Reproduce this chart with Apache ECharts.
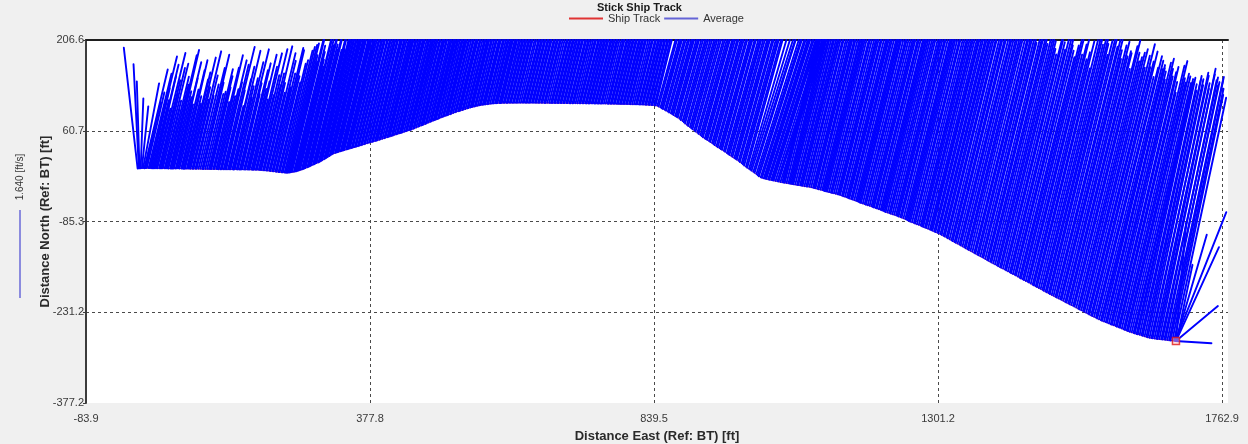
<!DOCTYPE html>
<html>
<head>
<meta charset="utf-8">
<title>Stick Ship Track</title>
<script src="https://cdn.jsdelivr.net/npm/echarts@6/dist/echarts.min.js"></script>
<style>
  html, body { margin: 0; padding: 0; background: #f0f0f0; }
  #chart { width: 1248px; height: 444px; }
</style>
</head>
<body>
<div id="chart"></div>
<script>
// Boat position for each ensemble, ft east / north of the start point (bottom track reference)
const trackEast = [
  0, 2, 3, 5, 7, 9, 11, 13, 15, 18, 20, 22, 24, 26, 28, 30, 32, 35, 37, 39, 41, 44, 46, 48, 50, 53, 55, 57, 59, 62, 64, 66, 68, 71, 73, 75, 77, 80, 82, 84, 86, 89, 91, 94, 96, 99, 102, 105, 107, 110, 113, 116,
  118, 120, 123, 125, 128, 130, 132, 135, 137, 140, 142, 144, 147, 149, 151, 154, 156, 158, 161, 163, 166, 168, 170, 173, 175, 178, 180, 182, 185, 187, 189, 192, 194, 197, 199, 201, 204, 206, 209, 211, 214, 216, 219, 221, 224, 226, 229, 231, 234, 236, 239, 241,
  243, 245, 247, 249, 251, 254, 256, 258, 260, 262, 264, 267, 269, 271, 273, 276, 278, 280, 282, 285, 287, 289, 291, 294, 296, 298, 300, 303, 305, 307,
  309, 312, 314, 316, 318, 321, 323, 325, 327, 330, 332, 334, 336, 339, 341, 343, 345, 348, 350, 353, 355, 358, 360, 363, 365, 368, 370, 373, 376, 378,
  381, 383, 386, 388, 390, 393, 395, 398, 401, 403, 406, 408, 410, 413, 415, 418, 421, 423, 426, 428, 430, 433, 436, 438, 441, 443, 445, 448, 450, 453, 456, 458,
  461, 463, 465, 468, 470, 473, 476, 478, 481, 483, 485, 488, 490, 493, 496, 498, 501, 503, 505, 508, 510, 513, 516, 518, 521, 523, 525, 528, 530, 533,
  536, 538, 541, 543, 545, 548, 550, 553, 556, 558, 561, 563, 565, 568, 570, 573, 576, 578, 581, 583, 585, 588,
  590, 592, 595, 597, 600, 602, 605, 607, 610, 612, 615, 617, 620, 623, 626, 628, 631, 633, 636, 638, 641, 643, 646, 648, 651, 653, 656, 658, 661, 663,
  666, 669, 672, 674, 677, 679, 682, 684, 687, 689, 692, 694, 697, 699, 702, 704, 707, 709, 712, 715, 718, 720, 723, 725, 728, 730, 733, 735, 738, 740,
  743, 745, 748, 750, 753, 755, 758, 761, 764, 766, 769, 771, 774, 776, 779, 781, 784, 786, 789, 791, 794, 796, 799, 801, 804, 807, 810, 812, 815, 817,
  820, 822, 825, 827, 830, 832, 835, 837, 840, 842,
  845, 847, 850, 852, 854, 857, 859, 862, 864, 867, 869, 871, 874, 876, 878, 881, 883, 886, 888, 890, 893, 895, 898, 900, 902, 905, 907, 910, 912, 915,
  917, 919, 922, 924, 926, 929, 931, 934, 936, 938, 941, 943, 946, 948, 950, 953, 955, 958, 960, 962, 965, 967, 970, 972, 974, 977, 979, 982, 984, 986,
  989, 991, 994, 996, 998, 1001, 1003, 1006, 1008, 1010, 1013, 1015, 1018, 1020, 1022, 1025, 1027, 1030, 1032, 1034, 1037, 1040, 1042, 1045,
  1048, 1050, 1052, 1055, 1058, 1060, 1062, 1064, 1066, 1069, 1072, 1074, 1077, 1079, 1081, 1084, 1087, 1089, 1092, 1095, 1098, 1100, 1102, 1105, 1107, 1110,
  1113, 1115, 1117, 1119, 1121, 1124, 1127, 1129, 1132, 1135, 1138, 1140, 1142, 1145, 1147, 1150, 1153, 1155, 1157, 1160, 1162, 1165, 1168, 1170, 1172, 1174,
  1176, 1179, 1182, 1184, 1187, 1190, 1193, 1195, 1197, 1200, 1202, 1205, 1208, 1210, 1212, 1214, 1216, 1219, 1222, 1224, 1227, 1230, 1233, 1235, 1237, 1240,
  1242, 1245, 1248, 1250, 1252, 1254, 1256, 1259, 1262, 1264, 1267, 1270, 1273, 1275, 1277, 1280, 1282, 1285, 1288, 1290, 1292, 1295, 1297, 1300, 1302, 1305,
  1307, 1310, 1312, 1315, 1317, 1320, 1323, 1325, 1328, 1330, 1333, 1336, 1338, 1341, 1344, 1346, 1349, 1351, 1354, 1357,
  1360, 1362, 1365, 1367, 1370, 1373, 1375, 1378, 1381, 1383, 1386, 1388, 1391, 1394, 1397, 1399, 1402, 1404, 1407, 1410,
  1412, 1415, 1418, 1420, 1423, 1426, 1428, 1431, 1434, 1436, 1439, 1441, 1444, 1447, 1449, 1452, 1455, 1457, 1460, 1462,
  1465, 1468, 1471, 1473, 1476, 1478, 1481, 1483, 1486, 1489, 1492, 1494, 1497, 1500, 1502, 1505, 1508, 1510, 1513, 1515,
  1518, 1521, 1523, 1526, 1529, 1531, 1534, 1537, 1539, 1542, 1545, 1547, 1550, 1552, 1555, 1558, 1560, 1563, 1566, 1568,
  1571, 1574, 1576, 1579, 1582, 1584, 1587, 1590, 1592, 1595, 1597, 1600, 1603, 1605, 1608, 1610, 1613, 1616, 1619, 1621,
  1624, 1626, 1629, 1632, 1634, 1637, 1640, 1642, 1645, 1648, 1650, 1653, 1656, 1658, 1661, 1664, 1666, 1669, 1671, 1674,
  1677, 1679, 1682,
  1685, 1687, 1688, 1688, 1689, 1688, 1687, 1688
];
const trackNorth = [
  0.0, 0.1, 0.3, 0.4, 0.5, 0.5, 0.4, 0.5, 0.6, 0.6, 0.5, 0.4, 0.3, 0.3, 0.4, 0.3, 0.2, 0.2, 0.1, 0.2, 0.3, 0.3, 0.2, 0.1, 0.0, -0.1,
  -0.2, -0.2, -0.1, 0.0, 0.1, 0.1, 0.0, -0.1, -0.3, -0.4, -0.4, -0.3, -0.2, -0.3, -0.5, -0.6, -0.6, -0.5, -0.4, -0.5, -0.7, -0.8, -0.8, -0.9, -0.9, -1.0,
  -1.0, -1.0, -1.1, -1.0, -0.9, -1.1, -1.2, -1.3, -1.4, -1.3, -1.2, -1.4, -1.5, -1.4, -1.3, -1.5, -1.6, -1.5, -1.4, -1.6, -1.7, -1.6, -1.5, -1.7, -1.8, -1.7,
  -1.6, -1.8, -1.9, -2.0, -2.1, -2.0, -2.0, -2.2, -2.4, -2.6, -2.9, -3.1, -3.3, -3.5, -3.8, -4.1, -4.4, -4.7, -5.0, -5.3, -5.7, -5.9, -6.2, -6.4, -6.6, -6.8,
  -6.9, -6.7, -6.5, -6.2, -5.8, -5.4, -5.0, -4.5, -3.9, -3.3, -2.6, -1.8, -1.0, -0.1, 0.8, 1.8, 2.7, 3.6, 4.6, 5.8, 6.9, 7.8, 8.8, 9.7, 10.6, 11.8, 13.1, 14.6, 16.0, 17.2,
  18.4, 20.0, 21.5, 22.8, 24.0, 24.8, 25.6, 26.2, 26.9, 27.6, 28.3, 28.9, 29.5, 30.3, 31.0, 31.6, 32.2, 32.9, 33.6, 34.3, 35.0, 35.8, 36.5, 37.3, 38.0, 38.8, 39.6, 40.5, 41.4, 42.0,
  42.6, 43.4, 44.1, 44.7, 45.3, 46.1, 46.9, 47.8, 48.7, 49.5, 50.3, 50.9, 51.5, 52.3, 53.1, 54.1, 55.0, 55.7, 56.5, 57.1, 57.8, 58.8, 59.7, 60.5, 61.3, 62.0, 62.7, 63.7, 64.6, 65.8, 67.0, 68.0,
  69.0, 69.8, 70.6, 71.6, 72.6, 73.8, 75.0, 76.0, 77.0, 77.8, 78.6, 79.6, 80.6, 81.8, 82.9, 83.9, 84.8, 85.5, 86.3, 87.2, 88.1, 89.2, 90.2, 91.0, 91.9, 92.5, 93.2, 94.0, 94.8, 95.7,
  96.6, 97.3, 98.0, 98.6, 99.1, 99.7, 100.3, 100.9, 101.5, 102.0, 102.4, 102.7, 103.0, 103.4, 103.7, 104.0, 104.3, 104.6, 104.8, 105.0, 105.1, 105.2,
  105.3, 105.4, 105.5, 105.5, 105.4, 105.5, 105.6, 105.6, 105.5, 105.6, 105.7, 105.7, 105.6, 105.7, 105.8, 105.8, 105.7, 105.6, 105.6, 105.7,
  105.8, 105.8, 105.7, 105.6, 105.5, 105.5, 105.6, 105.5, 105.4, 105.4, 105.5, 105.4, 105.3, 105.3, 105.4, 105.3, 105.2, 105.2, 105.3, 105.2,
  105.1, 105.1, 105.2, 105.1, 105.0, 104.9, 104.9, 105.0, 105.0, 104.9, 104.8, 104.8, 104.9, 104.8, 104.7, 104.6, 104.6, 104.6, 104.7, 104.6,
  104.5, 104.4, 104.4, 104.3, 104.3, 104.3, 104.4, 104.3, 104.2, 104.1, 104.0, 104.0, 104.1, 104.0, 103.9, 103.8, 103.8, 103.7, 103.6, 103.6,
  103.7, 103.6, 103.5, 103.4, 103.3, 103.2, 103.2, 103.1, 103.0, 102.9, 102.8, 102.7, 102.6, 102.4, 102.3, 102.2, 102.1, 101.9, 101.7, 101.4,
  101.1, 99.7, 98.2, 96.9, 95.6, 94.3, 93.0, 91.5, 90.0, 88.7, 87.4, 85.8, 84.3, 83.2, 82.1, 80.1, 78.0, 76.2, 74.3, 72.2, 70.2, 68.3, 66.5, 64.8, 63.1, 61.3, 59.5, 57.5, 55.5, 53.7,
  51.9, 50.1, 48.3, 47.1, 45.9, 44.1, 42.4, 40.8, 39.3, 37.5, 35.8, 34.2, 32.7, 31.3, 29.9, 28.3, 26.7, 24.9, 23.2, 21.8, 20.5, 18.6, 16.8, 15.4, 14.1, 12.2, 10.3, 8.5, 6.8, 4.8,
  2.9, 1.2, -0.5, -2.0, -3.6, -5.3, -7.0, -9.0, -10.9, -12.5, -14.2, -15.1, -15.9, -16.4, -16.8, -17.5, -18.2, -18.6, -19.0, -19.5, -20.1, -20.6, -21.1, -21.8,
  -22.4, -22.7, -23.0, -23.5, -24.0, -24.3, -24.7, -25.1, -25.5, -26.0, -26.5, -26.8, -27.1, -27.6, -28.0, -28.5, -28.9, -29.2, -29.5, -30.2,
  -30.9, -31.5, -32.0, -32.8, -33.5, -34.1, -34.7, -35.5, -36.2, -36.7, -37.3, -38.1, -38.8, -39.4, -40.0, -40.8, -41.5, -42.0, -42.6, -43.7,
  -44.7, -45.5, -46.3, -47.4, -48.4, -49.2, -50.0, -51.0, -52.0, -52.8, -53.7, -54.7, -55.7, -56.5, -57.3, -58.3, -59.3, -60.1, -60.9, -61.9,
  -62.9, -63.7, -64.5, -65.5, -66.5, -67.3, -68.1, -69.1, -70.1, -70.9, -71.7, -72.7, -73.7, -74.5, -75.3, -76.3, -77.3, -78.2, -79.1, -80.3,
  -81.4, -82.3, -83.3, -84.5, -85.6, -86.5, -87.5, -88.7, -89.8, -90.7, -91.7, -92.9, -94.0, -94.9, -95.9, -97.1, -98.2, -99.1, -100.1, -101.3,
  -102.4, -103.3, -104.3, -105.6,
  -106.9, -108.2, -109.4, -110.9, -112.4, -113.9, -115.4, -116.9, -118.4, -119.6, -120.9, -122.4, -123.8, -125.4, -126.9, -128.3, -129.8, -131.0, -132.3, -134.1,
  -135.8, -137.0, -138.3, -139.8, -141.3, -142.6, -143.8, -145.6, -147.3, -148.5, -149.8, -151.2, -152.7, -154.3, -155.8, -157.2, -158.7, -159.9, -161.1, -162.6,
  -164.0, -165.5, -167.0, -168.4, -169.8, -171.0, -172.3, -174.0, -175.7, -176.9, -178.2, -179.6, -181.0, -182.2, -183.5, -185.2, -186.9, -188.1, -189.4, -190.8,
  -192.2, -193.7, -195.2, -196.6, -198.1, -199.3, -200.6, -202.0, -203.4, -204.8, -206.3, -207.6, -209.0, -210.2, -211.4, -213.0, -214.7, -215.8, -217.0, -218.4,
  -219.8, -221.0, -222.2, -223.8, -225.5, -226.7, -227.9, -229.2, -230.6, -232.0, -233.5, -234.9, -236.3, -237.5, -238.7, -240.0, -241.4, -242.7, -244.0, -245.1,
  -246.2, -247.1, -248.0, -249.2, -250.5, -251.4, -252.3, -253.4, -254.5, -255.3, -256.2, -257.5, -258.8, -259.7, -260.6, -261.7, -262.8, -263.6, -264.5, -265.3,
  -266.2, -266.8, -267.5, -268.3, -269.2, -270.0, -270.8, -271.7, -272.5, -272.8, -273.1, -273.5, -274.0, -274.2, -274.4, -274.8, -275.1, -275.3, -275.5, -276.0,
  -276.4, -276.6, -276.8,
  -277.2, -277.4, -277.5, -277.6, -277.5, -277.4, -277.6, -277.5
];
// Depth-averaged water velocity for each ensemble, ft/s (east, north)
const velEast = [
  -0.26, -0.10, -0.05, 0.05, 0.12, 0.30, 0.44, 0.28, 0.33, 0.43, 0.51, 0.35, 0.31, 0.47, 0.40, 0.27, 0.53, 0.40, 0.32, 0.44, 0.48, 0.31, 0.25, 0.41, 0.38, 0.50,
  0.52, 0.35, 0.33, 0.48, 0.39, 0.28, 0.36, 0.44, 0.47, 0.33, 0.30, 0.40, 0.42, 0.50, 0.37, 0.31, 0.52, 0.42, 0.32, 0.38, 0.46, 0.51, 0.38, 0.34, 0.35, 0.45,
  0.42, 0.36, 0.30, 0.46, 0.50, 0.33, 0.37, 0.49, 0.38, 0.47, 0.56, 0.35, 0.29, 0.41, 0.45, 0.53, 0.38, 0.32, 0.40, 0.48, 0.55, 0.39, 0.33, 0.45, 0.48, 0.36,
  0.40, 0.51, 0.31, 0.46, 0.53, 0.34, 0.42, 0.54, 0.39, 0.43, 0.55, 0.39, 0.35, 0.53, 0.50, 0.38, 0.43, 0.56, 0.54, 0.43, 0.41, 0.49, 0.50, 0.56, 0.57, 0.59,
  0.60, 0.55, 0.52, 0.64, 0.67, 0.59, 0.56, 0.52, 0.49, 0.67, 0.63, 0.60, 0.58, 0.65, 0.70, 0.57, 0.55, 0.69, 0.61, 0.54, 0.67, 0.63, 0.53, 0.59, 0.64, 0.71, 0.59, 0.56, 0.69, 0.62,
  0.57, 0.68, 0.62, 0.58, 0.66, 0.64, 0.55, 0.73, 0.71, 0.55, 0.60, 0.66, 0.63, 0.60, 0.54, 0.70, 0.69, 0.58, 0.61, 0.65, 0.57, 0.68, 0.65, 0.57, 0.59, 0.67, 0.70, 0.62, 0.56, 0.59,
  0.59, 0.63, 0.68, 0.57, 0.52, 0.70, 0.62, 0.65, 0.72, 0.59, 0.55, 0.68, 0.64, 0.61, 0.58, 0.65, 0.69, 0.55, 0.61, 0.66, 0.51, 0.72, 0.66, 0.60, 0.57, 0.63, 0.71, 0.57, 0.55, 0.67,
  0.63, 0.55, 0.60, 0.71, 0.73, 0.62, 0.53, 0.66, 0.61, 0.58, 0.67, 0.70, 0.57, 0.63, 0.65, 0.60, 0.58, 0.67, 0.71, 0.56, 0.55, 0.65, 0.62, 0.59, 0.67, 0.72, 0.57, 0.62, 0.69, 0.54,
  0.60, 0.68, 0.53, 0.60, 0.64, 0.65, 0.59, 0.57, 0.72, 0.69, 0.56, 0.62, 0.66, 0.56, 0.58, 0.67, 0.65, 0.61, 0.54, 0.71, 0.68, 0.64, 0.61, 0.58,
  0.58, 0.62, 0.66, 0.56, 0.52, 0.68, 0.62, 0.60, 0.70, 0.65, 0.56, 0.53, 0.65, 0.61, 0.50, 0.59, 0.68, 0.64, 0.60, 0.72,
  0.55, 0.57, 0.67, 0.65, 0.59, 0.61, 0.71, 0.52, 0.54, 0.68, 0.63, 0.59, 0.61, 0.67, 0.51, 0.55, 0.69, 0.63, 0.57, 0.62,
  0.66, 0.71, 0.53, 0.58, 0.62, 0.65, 0.69, 0.54, 0.57, 0.68, 0.65, 0.60, 0.52, 0.72, 0.61, 0.57, 0.70, 0.64, 0.58, 0.66,
  0.68, 0.53, 0.55, 0.70, 0.63, 0.58, 0.50, 0.67, 0.69, 0.62, 0.60, 0.56, 0.66, 0.65, 0.54, 0.73, 0.62, 0.59, 0.72, 0.66,
  0.57, 0.60, 0.64, 0.71, 0.53, 0.58, 0.68, 0.63, 0.61, 0.67, 0.56, 0.55, 0.69, 0.62, 0.63, 0.69, 0.59, 0.65, 0.70, 0.61,
  0.73, 0.78, 0.83, 0.76, 0.69, 0.82, 0.87, 0.80, 0.78, 0.85, 0.90, 0.81, 0.75, 0.88, 0.85, 0.78, 0.81, 0.89, 0.92, 0.86,
  0.76, 0.83, 0.88, 0.90, 0.82, 0.84, 0.95, 0.92, 0.80, 0.87, 0.91, 0.94, 0.86, 0.89, 0.97, 0.88, 0.83, 0.95, 0.93, 0.91,
  0.87, 0.92, 0.99, 0.94, 0.86, 0.97, 0.95, 0.92, 0.90, 0.98, 1.00, 0.95, 0.89, 0.93, 0.97, 1.00, 0.92, 0.96, 1.02, 0.97,
  0.91, 1.01, 1.04, 1.04, 1.09, 1.13, 1.05, 1.10, 1.12, 1.16, 1.06, 1.12, 1.10, 1.14, 1.15, 1.18, 1.13, 1.16, 1.17, 1.18,
  1.19, 1.17, 1.15, 1.20,
  0.87, 0.93, 0.96, 0.89, 0.84, 0.97, 0.99, 0.92, 0.91, 0.95, 0.86, 0.98, 1.01, 0.90, 0.94, 0.96, 0.89, 0.93, 0.98, 0.91,
  0.85, 1.00, 0.95, 0.97, 1.03, 0.93, 0.90, 1.00, 0.99, 0.94, 0.88, 0.92, 0.97, 1.01, 0.92, 0.96, 1.02, 0.90, 0.87, 0.99,
  0.95, 1.02, 1.05, 0.97, 0.93, 0.95, 1.00, 1.03, 0.90, 0.98, 1.01, 0.95, 0.94, 1.04, 1.04, 0.99, 0.91, 0.96, 0.98, 1.02,
  1.06, 1.00, 0.94, 1.05, 1.03, 0.98, 0.97, 1.03, 0.91, 0.97, 1.05, 1.02, 1.00, 1.06, 0.95, 0.99, 1.08, 1.05, 0.99, 1.01,
  1.04, 1.06, 0.93, 1.00, 1.07, 1.04, 1.02, 1.07, 0.98, 1.02, 1.09, 1.05, 1.01, 1.08, 1.05, 1.01, 0.96, 1.07, 1.08, 1.04,
  1.03, 1.09, 1.00, 1.06,
  0.98, 1.01, 1.05, 1.00, 0.95, 1.06, 1.09, 1.04, 1.01, 1.03, 1.07, 1.01, 0.97, 1.06, 1.10, 1.07, 1.03, 1.02, 0.99, 1.05,
  1.08, 1.06, 1.04, 1.09, 1.12, 1.05, 1.00, 1.03, 1.06, 1.08, 1.10, 1.07, 1.02, 1.10, 1.13, 1.09, 1.05, 1.02, 1.00, 1.08,
  1.09, 1.07, 1.04, 1.11, 1.15, 1.10, 1.07, 1.05, 1.03, 1.09, 1.12, 1.13, 1.06, 1.11, 1.16, 1.05, 1.08, 1.14, 1.02, 1.15,
  1.19, 1.17, 1.14, 1.20, 1.23, 1.16, 1.11, 1.18, 1.21, 1.20, 1.17, 1.22, 1.25, 1.16, 1.12, 1.19, 1.21, 1.15, 1.18, 1.17,
  1.10, 1.21, 1.24, 1.19, 1.15, 1.18, 1.20, 1.22, 1.14, 1.20, 1.26, 1.15, 1.18, 1.23, 1.12, 1.17, 1.22, 1.21, 1.17, 1.18,
  1.15, 1.13, 1.09, 1.17, 1.19, 1.15, 1.11, 1.14, 1.16, 1.10, 1.05, 1.18, 1.20, 1.13, 1.11, 1.15, 1.14, 1.12, 1.10, 1.10,
  1.06, 1.05, 1.05, 1.04, 1.01, 1.06, 1.04, 1.05, 1.01, 1.08, 1.05, 1.04, 0.99, 1.08, 1.06, 1.07, 1.02, 1.04, 0.99, 1.05,
  1.03, 1.00, 0.96,
  0.98, 0.96, 0.58, 0.81, 0.30, 0.79, 0.68, 0.19
];
const velNorth = [
  2.25, 1.94, 1.62, 1.30, 1.15, 1.58, 1.84, 1.22, 1.41, 1.76, 2.08, 1.49, 1.27, 1.93, 1.72, 1.11, 2.15, 1.64, 1.38, 1.87, 1.95, 1.26, 1.09, 1.71, 1.56, 2.11,
  2.21, 1.44, 1.33, 1.98, 1.68, 1.19, 1.47, 1.83, 2.02, 1.35, 1.21, 1.66, 1.79, 2.07, 1.52, 1.29, 2.19, 1.74, 1.36, 1.57, 1.88, 2.13, 1.61, 1.40, 1.44, 1.86,
  1.73, 1.52, 1.25, 1.89, 2.12, 1.36, 1.49, 2.03, 1.62, 1.95, 2.28, 1.47, 1.18, 1.68, 1.91, 2.21, 1.55, 1.34, 1.70, 2.00, 2.24, 1.61, 1.40, 1.85, 1.98, 1.50,
  1.64, 2.14, 1.31, 1.92, 2.17, 1.39, 1.76, 2.25, 1.58, 1.80, 2.31, 1.63, 1.45, 2.19, 2.05, 1.56, 1.82, 2.30, 2.26, 1.78, 1.67, 2.02, 2.09, 2.27, 2.34, 2.38,
  2.41, 2.19, 2.06, 2.57, 2.72, 2.35, 2.23, 2.08, 1.94, 2.68, 2.55, 2.42, 2.31, 2.60, 2.83, 2.29, 2.18, 2.77, 2.47, 2.14, 2.66, 2.51, 2.12, 2.38, 2.58, 2.85, 2.34, 2.24, 2.79, 2.46,
  2.27, 2.71, 2.49, 2.33, 2.63, 2.56, 2.21, 2.92, 2.87, 2.20, 2.39, 2.64, 2.52, 2.40, 2.16, 2.81, 2.74, 2.30, 2.44, 2.59, 2.28, 2.73, 2.61, 2.26, 2.37, 2.67, 2.80, 2.48, 2.25, 2.36,
  2.36, 2.54, 2.71, 2.27, 2.09, 2.80, 2.48, 2.62, 2.88, 2.35, 2.22, 2.73, 2.57, 2.44, 2.31, 2.58, 2.76, 2.19, 2.43, 2.66, 2.05, 2.87, 2.64, 2.40, 2.29, 2.51, 2.83, 2.30, 2.18, 2.70,
  2.52, 2.21, 2.39, 2.83, 2.91, 2.47, 2.14, 2.63, 2.46, 2.32, 2.69, 2.79, 2.26, 2.52, 2.60, 2.41, 2.33, 2.68, 2.85, 2.25, 2.20, 2.59, 2.50, 2.36, 2.67, 2.90, 2.28, 2.46, 2.78, 2.15,
  2.41, 2.72, 2.11, 2.38, 2.55, 2.61, 2.37, 2.28, 2.89, 2.76, 2.24, 2.49, 2.62, 2.23, 2.34, 2.67, 2.58, 2.43, 2.17, 2.84, 2.74, 2.56, 2.45, 2.33,
  2.31, 2.50, 2.66, 2.22, 2.08, 2.71, 2.49, 2.39, 2.80, 2.60, 2.25, 2.13, 2.58, 2.45, 1.98, 2.35, 2.73, 2.56, 2.40, 2.89,
  2.19, 2.28, 2.69, 2.62, 2.35, 2.44, 2.84, 2.07, 2.14, 2.74, 2.54, 2.37, 2.43, 2.68, 2.03, 2.20, 2.77, 2.53, 2.30, 2.46,
  2.63, 2.83, 2.12, 2.34, 2.47, 2.59, 2.75, 2.15, 2.27, 2.72, 2.61, 2.41, 2.06, 2.87, 2.45, 2.26, 2.81, 2.55, 2.33, 2.64,
  2.70, 2.11, 2.21, 2.79, 2.52, 2.32, 2.01, 2.67, 2.78, 2.49, 2.38, 2.23, 2.65, 2.58, 2.16, 2.92, 2.48, 2.36, 2.86, 2.63,
  2.29, 2.40, 2.57, 2.85, 2.10, 2.30, 2.71, 2.54, 2.42, 2.69, 2.24, 2.18, 2.76, 2.47, 2.51, 2.77, 2.36, 2.61, 2.82, 2.43,
  2.62, 2.80, 2.95, 2.70, 2.48, 2.93, 3.10, 2.85, 2.77, 3.02, 3.21, 2.91, 2.69, 3.13, 3.04, 2.79, 2.88, 3.18, 3.30, 3.07,
  2.73, 2.96, 3.15, 3.22, 2.92, 3.01, 3.38, 3.27, 2.84, 3.11, 3.24, 3.36, 3.06, 3.19, 3.45, 3.14, 2.98, 3.40, 3.33, 3.26,
  3.12, 3.30, 3.52, 3.35, 3.08, 3.46, 3.41, 3.28, 3.20, 3.50, 3.58, 3.39, 3.17, 3.32, 3.47, 3.56, 3.29, 3.43, 3.63, 3.48,
  3.25, 3.61, 3.55, 3.37, 3.40, 3.53, 3.36, 3.45, 3.49, 3.64, 3.31, 3.50, 3.44, 3.57, 3.60, 3.68, 3.52, 3.62, 3.66, 3.70,
  3.71, 3.65, 3.58, 3.74,
  3.48, 3.70, 3.83, 3.55, 3.36, 3.89, 3.97, 3.66, 3.62, 3.79, 3.44, 3.92, 4.05, 3.58, 3.74, 3.85, 3.55, 3.73, 3.90, 3.64,
  3.40, 3.99, 3.79, 3.87, 4.12, 3.71, 3.59, 4.01, 3.95, 3.76, 3.51, 3.69, 3.86, 4.04, 3.68, 3.82, 4.08, 3.61, 3.47, 3.94,
  3.81, 4.07, 4.18, 3.86, 3.71, 3.80, 3.99, 4.11, 3.58, 3.90, 4.03, 3.78, 3.77, 4.16, 4.15, 3.96, 3.65, 3.84, 3.93, 4.09,
  4.24, 3.98, 3.75, 4.20, 4.10, 3.93, 3.88, 4.13, 3.63, 3.89, 4.21, 4.06, 4.01, 4.22, 3.80, 3.97, 4.30, 4.18, 3.96, 4.03,
  4.14, 4.25, 3.73, 4.00, 4.27, 4.15, 4.06, 4.29, 3.91, 4.08, 4.36, 4.21, 4.02, 4.31, 4.19, 4.05, 3.84, 4.26, 4.33, 4.17,
  4.11, 4.34, 3.98, 4.23,
  3.92, 4.05, 4.18, 3.98, 3.81, 4.22, 4.35, 4.17, 4.04, 4.13, 4.26, 4.02, 3.88, 4.25, 4.41, 4.28, 4.12, 4.06, 3.97, 4.19,
  4.30, 4.24, 4.16, 4.36, 4.47, 4.20, 4.01, 4.10, 4.24, 4.33, 4.39, 4.26, 4.09, 4.40, 4.53, 4.35, 4.21, 4.08, 3.99, 4.31,
  4.37, 4.27, 4.15, 4.44, 4.58, 4.38, 4.29, 4.21, 4.11, 4.34, 4.49, 4.51, 4.22, 4.42, 4.63, 4.18, 4.33, 4.55, 4.06, 4.60,
  4.74, 4.69, 4.57, 4.78, 4.91, 4.63, 4.44, 4.72, 4.82, 4.81, 4.66, 4.87, 4.98, 4.64, 4.49, 4.76, 4.85, 4.59, 4.70, 4.68,
  4.40, 4.84, 4.96, 4.75, 4.61, 4.70, 4.80, 4.88, 4.55, 4.79, 5.02, 4.61, 4.73, 4.93, 4.47, 4.66, 4.89, 4.82, 4.68, 4.71,
  4.78, 4.67, 4.53, 4.86, 4.95, 4.77, 4.64, 4.73, 4.84, 4.57, 4.38, 4.90, 5.00, 4.69, 4.62, 4.80, 4.76, 4.65, 4.58, 4.74,
  4.62, 4.70, 4.79, 4.68, 4.57, 4.78, 4.86, 4.81, 4.71, 4.89, 4.95, 4.76, 4.66, 4.93, 5.04, 4.88, 4.83, 4.80, 4.74, 4.85,
  4.91, 4.69, 4.58,
  4.53, 2.40, 1.98, 1.75, 1.42, 0.65, -0.04, 2.20
];

// Axis tick labels as printed
const xTickLabels = ['-83.9', '377.8', '839.5', '1301.2', '1762.9'];
const yTickLabels = ['-377.2', '-231.2', '-85.3', '60.7', '206.6'];

const scaleRef = 1.640;     // ft/s represented by the scale bar
const STICK_SCALE = 86.3;   // ft of plot distance per 1 ft/s of velocity

const X_MIN = -83.9, X_MAX = 1772.6, X_STEP = 461.7;
const Y_MIN = -377.2, Y_MAX = 206.6, Y_STEP = 145.95;

const FONT = '"Liberation Sans", Arial, sans-serif';

const nEns = Math.min(trackEast.length, trackNorth.length, velEast.length, velNorth.length);
const ensembles = [];
const trackPts = [];
for (let i = 0; i < nEns; i++) {
  ensembles.push([trackEast[i], trackNorth[i], velEast[i], velNorth[i]]);
  trackPts.push([trackEast[i], trackNorth[i]]);
}
const lastPt = trackPts[trackPts.length - 1];

// Liang–Barsky clip of a segment against the plot rectangle
function clipSegment(x0, y0, x1, y1, r) {
  let t0 = 0, t1 = 1;
  const dx = x1 - x0, dy = y1 - y0;
  const p = [-dx, dx, -dy, dy];
  const q = [x0 - r.x, r.x + r.width - x0, y0 - r.y, r.y + r.height - y0];
  for (let k = 0; k < 4; k++) {
    if (p[k] === 0) {
      if (q[k] < 0) return null;
    } else {
      const t = q[k] / p[k];
      if (p[k] < 0) { if (t > t1) return null; if (t > t0) t0 = t; }
      else { if (t < t0) return null; if (t < t1) t1 = t; }
    }
  }
  return [x0 + t0 * dx, y0 + t0 * dy, x0 + t1 * dx, y0 + t1 * dy];
}

const chart = echarts.init(document.getElementById('chart'), null, { renderer: 'canvas' });

const gridLine = { show: true, lineStyle: { color: '#4a4a4a', width: 1, type: [3, 3] } };

chart.setOption({
  animation: false,
  backgroundColor: '#f0f0f0',
  textStyle: { fontFamily: FONT },
  title: {
    text: 'Stick Ship Track',
    left: 597,
    top: 2,
    padding: 0,
    textStyle: { fontSize: 11, fontWeight: 'bold', color: '#1a1a1a', fontFamily: FONT }
  },
  legend: {
    top: 13,
    left: 569,
    itemWidth: 34,
    itemHeight: 2,
    itemGap: 4,
    padding: 0,
    textStyle: { fontSize: 11, color: '#333', fontFamily: FONT },
    data: [
      { name: 'Ship Track', icon: 'rect', itemStyle: { color: '#e03434' } },
      { name: 'Average', icon: 'rect', itemStyle: { color: '#6464d6' } }
    ]
  },
  grid: {
    left: 86, right: 20, top: 40, bottom: 41,
    containLabel: false,
    outerBoundsMode: 'none',
    show: true, backgroundColor: '#ffffff', borderWidth: 0
  },
  xAxis: [
    {
      type: 'value', position: 'bottom',
      min: X_MIN, max: X_MAX, interval: X_STEP,
      name: 'Distance East (Ref: BT) [ft]',
      nameLocation: 'middle', nameGap: 27, nameMoveOverlap: false,
      nameTextStyle: { fontSize: 13, fontWeight: 'bold', color: '#2a2a2a', fontFamily: FONT },
      axisLine: { show: false, onZero: false },
      axisTick: { show: false },
      axisLabel: {
        margin: 10, fontSize: 11, color: '#3a3a3a', fontFamily: FONT,
        showMaxLabel: false,
        formatter: (val, idx) => xTickLabels[idx] || ''
      },
      splitLine: Object.assign({ showMinLine: false, showMaxLine: false }, gridLine)
    },
    {
      // top frame line
      type: 'value', position: 'top',
      min: X_MIN, max: X_MAX,
      axisLine: { show: true, onZero: false, lineStyle: { color: '#1e1e1e', width: 2 } },
      axisTick: { show: false }, axisLabel: { show: false }, splitLine: { show: false }
    }
  ],
  yAxis: {
    type: 'value',
    min: Y_MIN, max: Y_MAX, interval: Y_STEP,
    name: 'Distance North (Ref: BT) [ft]',
    nameLocation: 'middle', nameGap: 34, nameRotate: 90, nameMoveOverlap: false,
    nameTextStyle: { fontSize: 13, fontWeight: 'bold', color: '#2a2a2a', fontFamily: FONT },
    axisLine: { show: true, onZero: false, lineStyle: { color: '#3c3c3c', width: 2 } },
    axisTick: { show: true, length: 3, lineStyle: { color: '#3c3c3c' } },
    axisLabel: {
      margin: 2, fontSize: 11, color: '#3a3a3a', fontFamily: FONT,
      formatter: (val, idx) => yTickLabels[idx] || ''
    },
    splitLine: Object.assign({ showMinLine: false, showMaxLine: false }, gridLine)
  },
  series: [
    {
      name: 'Ship Track',
      type: 'line',
      data: trackPts,
      showSymbol: false,
      lineStyle: { color: '#e8202a', width: 1 },
      itemStyle: { color: '#e8202a' },
      z: 2
    },
    {
      name: 'Average',
      type: 'custom',
      data: ensembles,
      encode: { x: 0, y: 1 },
      itemStyle: { color: '#0000ff' },
      z: 3,
      renderItem: function (params, api) {
        const e = api.value(0), n = api.value(1), u = api.value(2), v = api.value(3);
        const a = api.coord([e, n]);
        const b = api.coord([e + u * STICK_SCALE, n + v * STICK_SCALE]);
        const seg = clipSegment(a[0], a[1], b[0], b[1], params.coordSys);
        if (!seg) return null;
        return {
          type: 'line',
          shape: { x1: seg[0], y1: seg[1], x2: seg[2], y2: seg[3] },
          style: { stroke: '#0000ff', lineWidth: 1.9, lineCap: 'round' }
        };
      }
    },
    {
      name: 'End',
      type: 'scatter',
      data: [lastPt],
      symbol: 'rect',
      symbolSize: 7,
      itemStyle: { color: 'rgba(255,190,190,0.6)', borderColor: '#e01818', borderWidth: 1.5 },
      z: 5
    }
  ]
});

// Velocity scale bar at the left edge, sized from the y axis scale
const py0 = chart.convertToPixel({ yAxisIndex: 0 }, 0);
const py1 = chart.convertToPixel({ yAxisIndex: 0 }, scaleRef * STICK_SCALE);
const barLen = Math.abs(py0 - py1);
const barTop = 210;
chart.setOption({
  graphic: [
    {
      type: 'line',
      shape: { x1: 20, y1: barTop, x2: 20, y2: barTop + barLen },
      style: { stroke: '#6a6ad8', lineWidth: 1.5 }
    },
    {
      type: 'text',
      x: 20, y: 177,
      rotation: Math.PI / 2,
      style: {
        text: scaleRef.toFixed(3) + ' [ft/s]',
        fontSize: 10, fontFamily: FONT, fill: '#333',
        align: 'center', verticalAlign: 'middle'
      }
    }
  ]
});
</script>
</body>
</html>
